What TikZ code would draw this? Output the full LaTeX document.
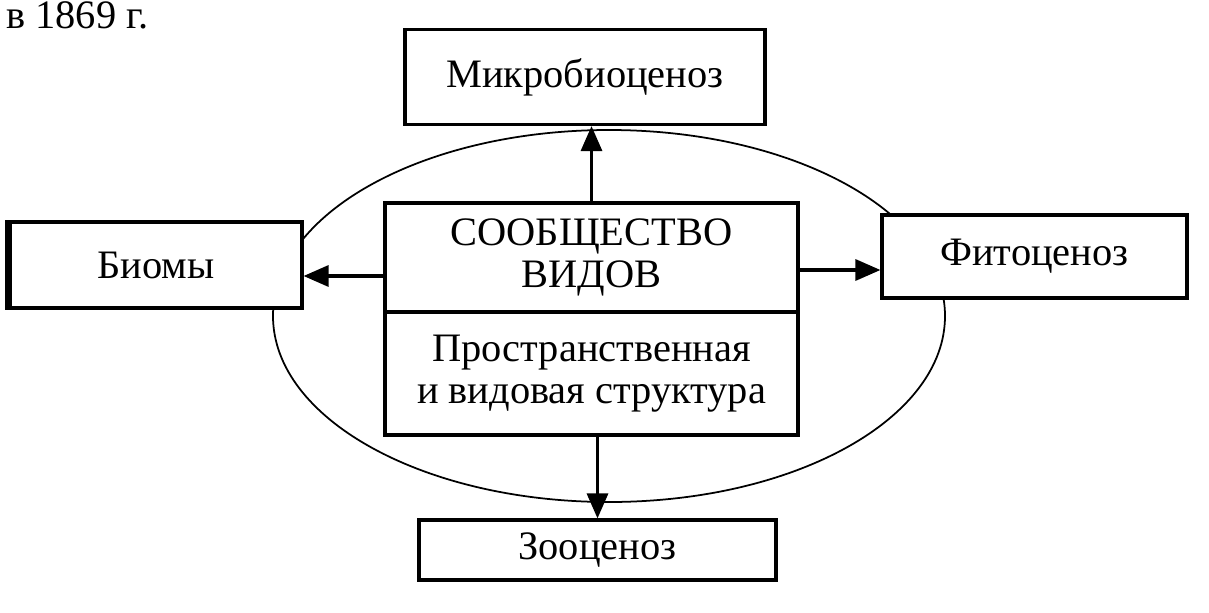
\documentclass[tikz,border=0pt]{standalone}
\usepackage{fontspec}
\setmainfont{Liberation Serif}
\usetikzlibrary{arrows.meta}

\tikzset{
	blok/.style = {draw, line width = 1.8pt, fill = white, inner sep = 0pt,
		align = center, font = \fontsize{23}{23.5}\selectfont},
	strelka/.style = {line width = 1.8pt, -{Triangle[length = 0.5cm, width = 0.42cm]}}
}

\begin{document}
\begin{tikzpicture}[x = 0.02cm, y = -0.02cm]
		
		\useasboundingbox (0, 0) rectangle (1209, 612);
		
		\node[anchor = base west, inner sep = 0pt, font = \fontsize{23}{24}\selectfont] (god) at (6, 29) {в 1869 г.};
		
		\draw[line width = 1pt] (609, 316) ellipse [x radius = 336, y radius = 186];
		
		\node[blok, minimum width = 7.2cm, minimum height = 1.9cm] (mikro) at (585, 77) {Микробиоценоз};
		\node[blok, minimum width = 5.84cm, minimum height = 1.72cm] (biomy) at (156, 265) {Биомы};
		\node[blok, minimum width = 6.1cm, minimum height = 1.66cm] (fito) at (1034.5, 256.5) {Фитоценоз};
		\node[blok, minimum width = 7.14cm, minimum height = 1.2cm] (zoo) at (597.5, 550) {Зооценоз};
		
		\node[blok, minimum width = 8.26cm, minimum height = 2.18cm] (soob) at (591.5, 257.5) {СООБЩЕСТВО\\ВИДОВ};
		\node[blok, minimum width = 8.26cm, minimum height = 2.46cm] (struk) at (591.5, 373.5) {Пространственная\\и видовая структура};
		
		\draw[line width = 4pt] (biomy.north west) -- (biomy.south west);
		
		\draw[strelka] (soob.north) -- (soob.north |- mikro.south);
		\draw[strelka] ([yshift = -0.37cm]soob.west) -- ([yshift = -0.37cm]soob.west -| biomy.east);
		\draw[strelka] ([yshift = -0.25cm]soob.east) -- ([yshift = -0.25cm]soob.east -| fito.west);
		\draw[strelka] (zoo.north |- struk.south) -- (zoo.north);
		
	\end{tikzpicture}
\end{document}
